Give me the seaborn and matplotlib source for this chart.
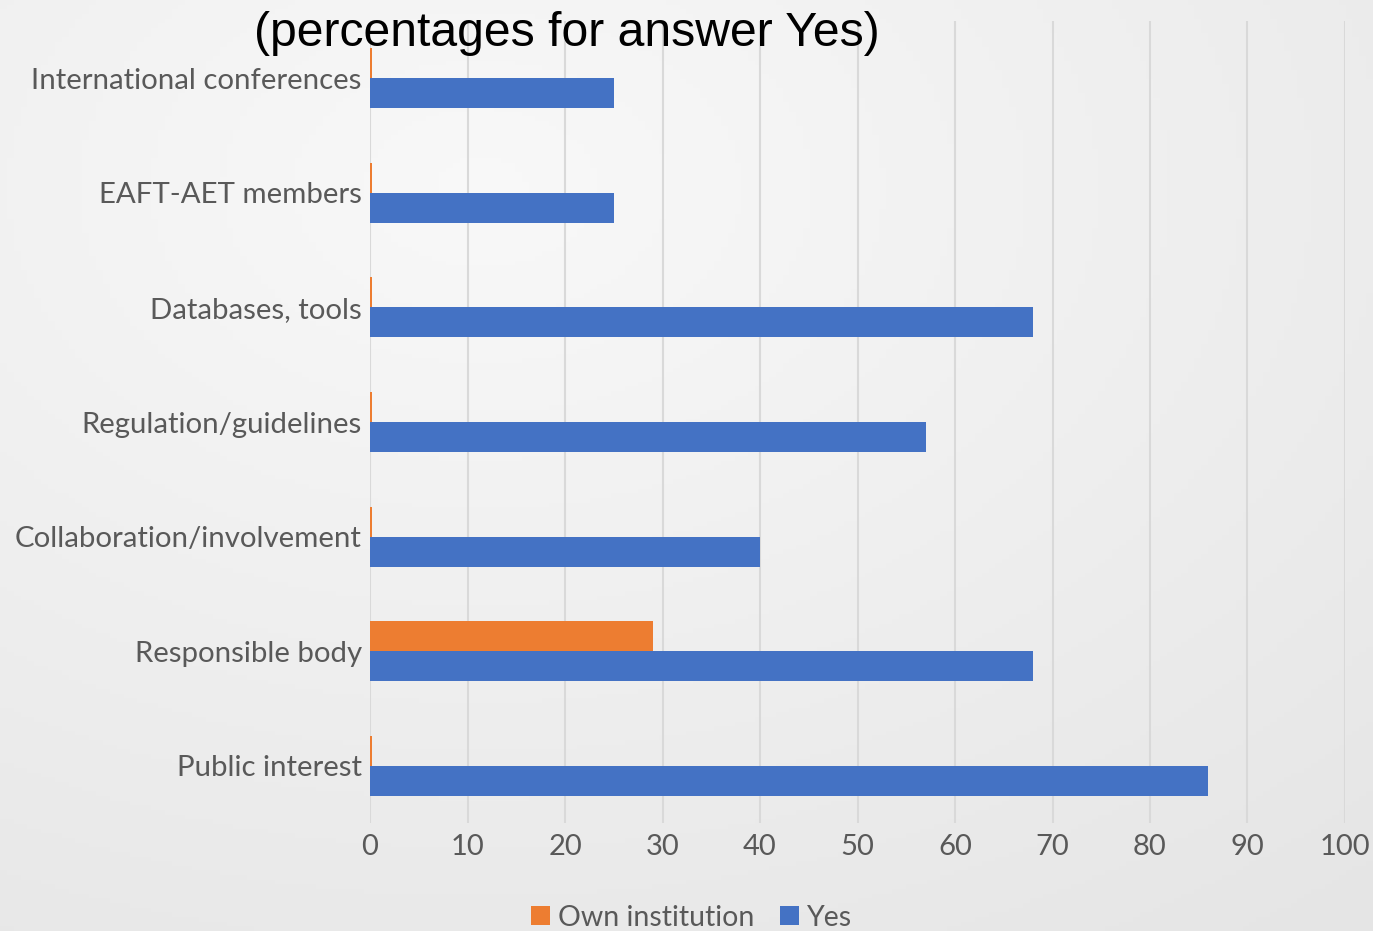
import numpy as np
import pandas as pd
import matplotlib
matplotlib.use("Agg")
import matplotlib.pyplot as plt
import seaborn as sns

categories = ["International conferences", "EAFT-AET members", "Databases, tools",
              "Regulation/guidelines", "Collaboration/involvement", "Responsible body",
              "Public interest"]
own_institution = [0.2, 0.2, 0.2, 0.2, 0.2, 29, 0.2]
yes_values = [25, 25, 68, 57, 40, 68, 86]
series_names = ["Own institution", "Yes"]
x_ticks = [0, 10, 20, 30, 40, 50, 60, 70, 80, 90, 100]
title = "(percentages for answer Yes)"

df = pd.DataFrame({
    "category": categories * 2,
    "series": [series_names[0]] * len(categories) + [series_names[1]] * len(categories),
    "value": own_institution + yes_values,
})

sns.set_theme(style="white")
plt.rcParams["font.family"] = ["Lato", "DejaVu Sans"]

fig = plt.figure(figsize=(13.73, 9.31), dpi=100)

# gradient background
bg = fig.add_axes([0, 0, 1, 1], zorder=-10)
yy, xx = np.mgrid[0:1:200j, 0:1:200j]
r = np.sqrt((xx - 0.35) ** 2 + (yy - 0.2) ** 2)
g = 0.975 - 0.075 * np.clip(r / 1.0, 0, 1)
bg.imshow(np.dstack([g, g, g]), extent=[0, 1, 0, 1], origin="upper", aspect="auto")
bg.axis("off")

ax = fig.add_axes([0.2695, 0.116, 0.9796 - 0.2695, 0.9774 - 0.116])
ax.patch.set_alpha(0)

palette = {"Own institution": "#ED7D31", "Yes": "#4472C4"}
sns.barplot(data=df, y="category", x="value", hue="series", order=categories,
            hue_order=series_names, palette=palette, orient="h", width=0.524,
            dodge=True, ax=ax, saturation=1, legend=True, zorder=3, linewidth=0)

ax.set_xlim(0, 100)
ax.set_ylim(6.5, -0.5)
ax.set_xticks(x_ticks)
ax.set_xticklabels([str(t) for t in x_ticks])
ax.grid(axis="x", color="#d9d9d9", linewidth=1.5, zorder=0)
ax.set_axisbelow(True)
for s in ax.spines.values():
    s.set_visible(False)
ax.tick_params(axis="y", length=0, pad=6, labelsize=21.2, labelcolor="#595959")
ax.tick_params(axis="x", length=0, pad=8, labelsize=21, labelcolor="#595959")
ax.set_xlabel("")
ax.set_ylabel("")
for lbl in ax.get_yticklabels():
    lbl.set_y(lbl.get_position()[1])

leg = ax.legend(loc="center", bbox_to_anchor=(0.504, 0.014),
                bbox_transform=fig.transFigure, ncol=2, frameon=False, fontsize=20.5,
                handlelength=0.65, handleheight=0.65, handletextpad=0.3, columnspacing=0.9)
for t in leg.get_texts():
    t.set_color("#595959")

fig.text(0.4126, 0.964, title, ha="center", va="center", fontsize=34.7,
         family=["Liberation Sans", "DejaVu Sans"], color="black")

fig.savefig("out.png", dpi=100)
